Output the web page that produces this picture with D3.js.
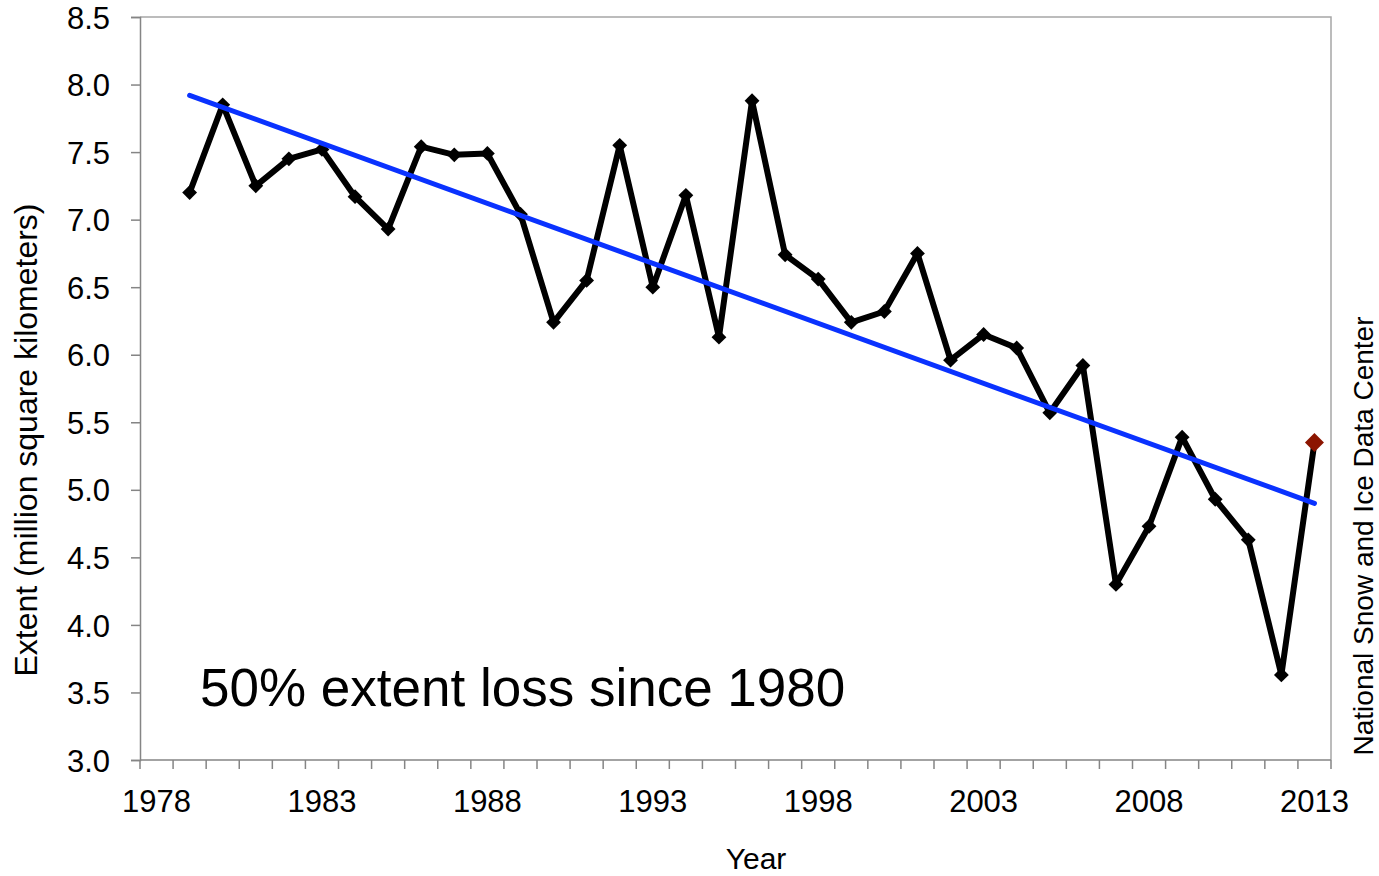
<!DOCTYPE html>
<html>
<head>
<meta charset="utf-8">
<script src="https://cdn.jsdelivr.net/npm/d3@7"></script>
<style>
    body { margin: 0; background: #ffffff; }
    svg text { font-family: "Liberation Sans", Arial, sans-serif; fill: #000; }
</style>
</head>
<body>
<div id="chart"></div>
<script>
// September sea ice extent, million km^2
let years = d3.range(1978, 2014);
let dataYears = [1979, 1980, 1981, 1982, 1983, 1984, 1985, 1986, 1987, 1988,
    1989, 1990, 1991, 1992, 1993, 1994, 1995, 1996, 1997, 1998,
    1999, 2000, 2001, 2002, 2003, 2004, 2005, 2006, 2007, 2008,
    2009, 2010, 2011, 2012, 2013];
let extent = [7.20, 7.85, 7.25, 7.45, 7.52, 7.17, 6.93, 7.54, 7.48, 7.49,
    7.04, 6.24, 6.55, 7.55, 6.50, 7.18, 6.13, 7.88, 6.74, 6.56,
    6.24, 6.32, 6.75, 5.96, 6.15, 6.05, 5.57, 5.92, 4.30, 4.73,
    5.39, 4.93, 4.63, 3.63, 5.35];
let trendYears = [1979, 2013];
let trendValues = [7.92, 4.90];
let yTicks = [3.0, 3.5, 4.0, 4.5, 5.0, 5.5, 6.0, 6.5, 7.0, 7.5, 8.0, 8.5];
let yearLabels = [1978, 1983, 1988, 1993, 1998, 2003, 2008, 2013];

let width = 1379, height = 876;
let margin = {top: 17, right: 48, bottom: 116, left: 140};

let svg = d3.select("#chart").append("svg")
    .attr("width", width)
    .attr("height", height);

// scales
let x = d3.scaleBand()
    .domain(years)
    .range([margin.left, width - margin.right])
    .padding(0);
let xc = d => x(d) + x.bandwidth() / 2;

let y = d3.scaleLinear()
    .domain([3, 8.5])
    .range([height - margin.bottom, margin.top]);

// plot frame (top + right in light grey)
svg.append("path")
    .attr("d", `M${x.range()[0]},${y(8.5)}H${x.range()[1]}V${y(3)}`)
    .attr("fill", "none")
    .attr("stroke", "#a6a6a6")
    .attr("stroke-width", 1.5);

// y axis
let yAxis = d3.axisLeft(y)
    .tickValues(yTicks)
    .tickFormat(d3.format(".1f"))
    .tickSizeOuter(0)
    .tickSize(9)
    .tickPadding(21);
let gy = svg.append("g")
    .attr("transform", `translate(${margin.left},0)`)
    .call(yAxis);
gy.selectAll("line, path").attr("stroke", "#858585").attr("stroke-width", 1.5);
gy.selectAll("text").style("font-size", "31px").attr("dy", "0.36em");

// x axis: ticks between categories, labels every 5 years
let gx = svg.append("g")
    .attr("transform", `translate(0,${y(3)})`);
gx.append("line")
    .attr("x1", x.range()[0]).attr("x2", x.range()[1])
    .attr("stroke", "#858585").attr("stroke-width", 1.5);
let boundaries = years.map(d => x(d)).concat([x.range()[1]]);
gx.selectAll(".tick")
    .data(boundaries)
    .enter().append("line")
    .attr("class", "tick")
    .attr("x1", d => d).attr("x2", d => d)
    .attr("y1", 0).attr("y2", 9)
    .attr("stroke", "#858585").attr("stroke-width", 1.5);
gx.selectAll(".label")
    .data(yearLabels)
    .enter().append("text")
    .attr("class", "label")
    .attr("x", d => xc(d))
    .attr("y", 52)
    .attr("text-anchor", "middle")
    .style("font-size", "31px")
    .text(d => d);

// axis titles
svg.append("text")
    .attr("transform", `translate(37,440) rotate(-90)`)
    .attr("text-anchor", "middle")
    .style("font-size", "32px")
    .text("Extent (million square kilometers)");

svg.append("text")
    .attr("x", 756)
    .attr("y", 869)
    .attr("text-anchor", "middle")
    .style("font-size", "30px")
    .text("Year");

svg.append("text")
    .attr("transform", `translate(1373,536) rotate(-90)`)
    .attr("text-anchor", "middle")
    .style("font-size", "28px")
    .text("National Snow and Ice Data Center");

svg.append("text")
    .attr("x", 200)
    .attr("y", 706)
    .style("font-size", "53px")
    .text("50% extent loss since 1980");

// data line
let series = dataYears.map((d, i) => ({year: d, value: extent[i]}));

let line = d3.line()
    .x(d => xc(d.year))
    .y(d => y(d.value));

svg.append("path")
    .datum(series)
    .attr("fill", "none")
    .attr("stroke", "#000")
    .attr("stroke-width", 6)
    .attr("stroke-linejoin", "round")
    .attr("d", line);

// diamond markers
let diamond = d3.symbol().type(d3.symbolSquare).size(110);
let bigDiamond = d3.symbol().type(d3.symbolSquare).size(180);
svg.selectAll(".marker")
    .data(series)
    .enter().append("path")
    .attr("class", "marker")
    .attr("d", d => d.year === 2013 ? bigDiamond() : diamond())
    .attr("transform", d => `translate(${xc(d.year)},${y(d.value)}) rotate(45)`)
    .attr("fill", d => d.year === 2013 ? "#8c1500" : "#000");

// trend line
let trend = trendYears.map((d, i) => ({year: d, value: trendValues[i]}));
svg.append("path")
    .datum(trend)
    .attr("fill", "none")
    .attr("stroke", "#0a32ff")
    .attr("stroke-width", 5)
    .attr("stroke-linecap", "round")
    .attr("d", line);
</script>
</body>
</html>
